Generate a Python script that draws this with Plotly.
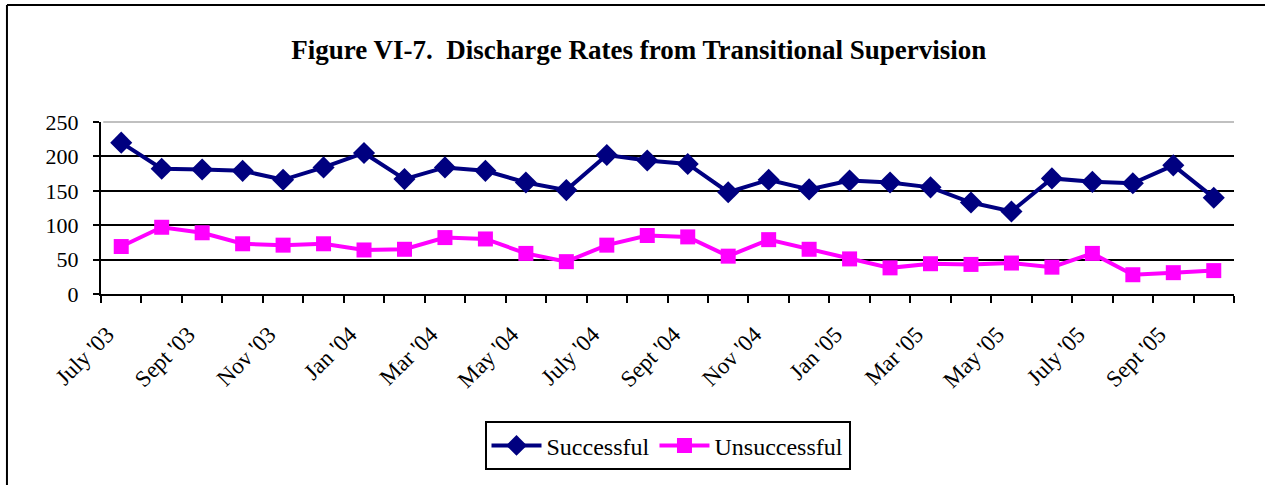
import plotly.graph_objects as go

months = ["July '03", "Aug '03", "Sept '03", "Oct '03", "Nov '03", "Dec '03",
          "Jan '04", "Feb '04", "Mar '04", "Apr '04", "May '04", "June '04",
          "July '04", "Aug '04", "Sept '04", "Oct '04", "Nov '04", "Dec '04",
          "Jan '05", "Feb '05", "Mar '05", "Apr '05", "May '05", "June '05",
          "July '05", "Aug '05", "Sept '05", "Oct '05"]
successful = [220, 182, 181, 179, 166, 184, 205, 167, 184, 179, 162, 151,
              202, 194, 189, 148, 166, 152, 165, 162, 155, 133, 120, 168,
              163, 161, 187, 140]
unsuccessful = [69, 97, 89, 73, 71, 73, 64, 65, 82, 80, 59, 47,
                71, 85, 83, 55, 79, 65, 51, 38, 44, 43, 45, 39,
                59, 28, 31, 34]
y_ticks = [0, 50, 100, 150, 200, 250]

x = list(range(len(months)))
label_idx = x[::2]

FONT = "Liberation Serif"

fig = go.Figure()
fig.add_trace(go.Scatter(x=x, y=successful, name="Successful", mode="lines+markers",
                         line=dict(color="#000080", width=4),
                         marker=dict(symbol="diamond", size=17, color="#000080")))
fig.add_trace(go.Scatter(x=x, y=unsuccessful, name="Unsuccessful", mode="lines+markers",
                         line=dict(color="#FF00FF", width=4),
                         marker=dict(symbol="square", size=15, color="#FF00FF")))

fig.update_layout(
    width=1265, height=485,
    margin=dict(l=101, r=31, t=122, b=191),
    paper_bgcolor="white", plot_bgcolor="white",
    font=dict(family=FONT, size=21, color="black"),
    title=dict(text="<b>Figure VI-7.  Discharge Rates from Transitional Supervision</b>",
               x=0.505, xanchor="center", y=0.897, yanchor="middle",
               font=dict(family=FONT, size=27, color="black")),
    showlegend=True,
    legend=dict(orientation="h", x=0.5, xanchor="center", y=-0.74, yanchor="top",
                bordercolor="black", borderwidth=2, font=dict(size=24),
                itemwidth=50, tracegroupgap=0),
    xaxis=dict(range=[-0.5, len(months) - 0.5], tickmode="array",
               tickvals=label_idx, ticktext=[months[i] for i in label_idx],
               tickangle=-45, ticks="", showgrid=False, zeroline=False,
               showline=True, linecolor="black", linewidth=2, automargin=False,
               tickfont=dict(family=FONT, size=23),
               ticklabelshift=-14, ticklabelstandoff=16,
               minor=dict(tickvals=[i - 0.5 for i in range(len(months) + 1)],
                          ticks="outside", ticklen=7, tickwidth=2, tickcolor="black",
                          showgrid=False)),
    yaxis=dict(range=[0, 250], tickmode="array", tickvals=y_ticks,
               showgrid=True, gridcolor="black", gridwidth=2, zeroline=False,
               showline=True, linecolor="black", linewidth=2, automargin=False,
               ticks="outside", ticklen=6, tickwidth=2, tickcolor="black",
               ticklabelstandoff=10,
               tickfont=dict(family=FONT, size=22)),
    shapes=[
        dict(type="line", xref="paper", yref="paper", x0=0.002, x1=1, y0=1, y1=1,
             line=dict(color="#C0C0C0", width=2)),
        dict(type="line", xref="paper", yref="paper", x0=-0.083, x1=1.2, y0=1.68, y1=1.68,
             line=dict(color="black", width=2)),
        dict(type="line", xref="paper", yref="paper", x0=-0.083, x1=-0.083, y0=-2, y1=1.68,
             line=dict(color="black", width=2)),
    ],
)

fig.write_html("out.html", config={"displayModeBar": False},
               post_script="document.body.style.margin='0';")
